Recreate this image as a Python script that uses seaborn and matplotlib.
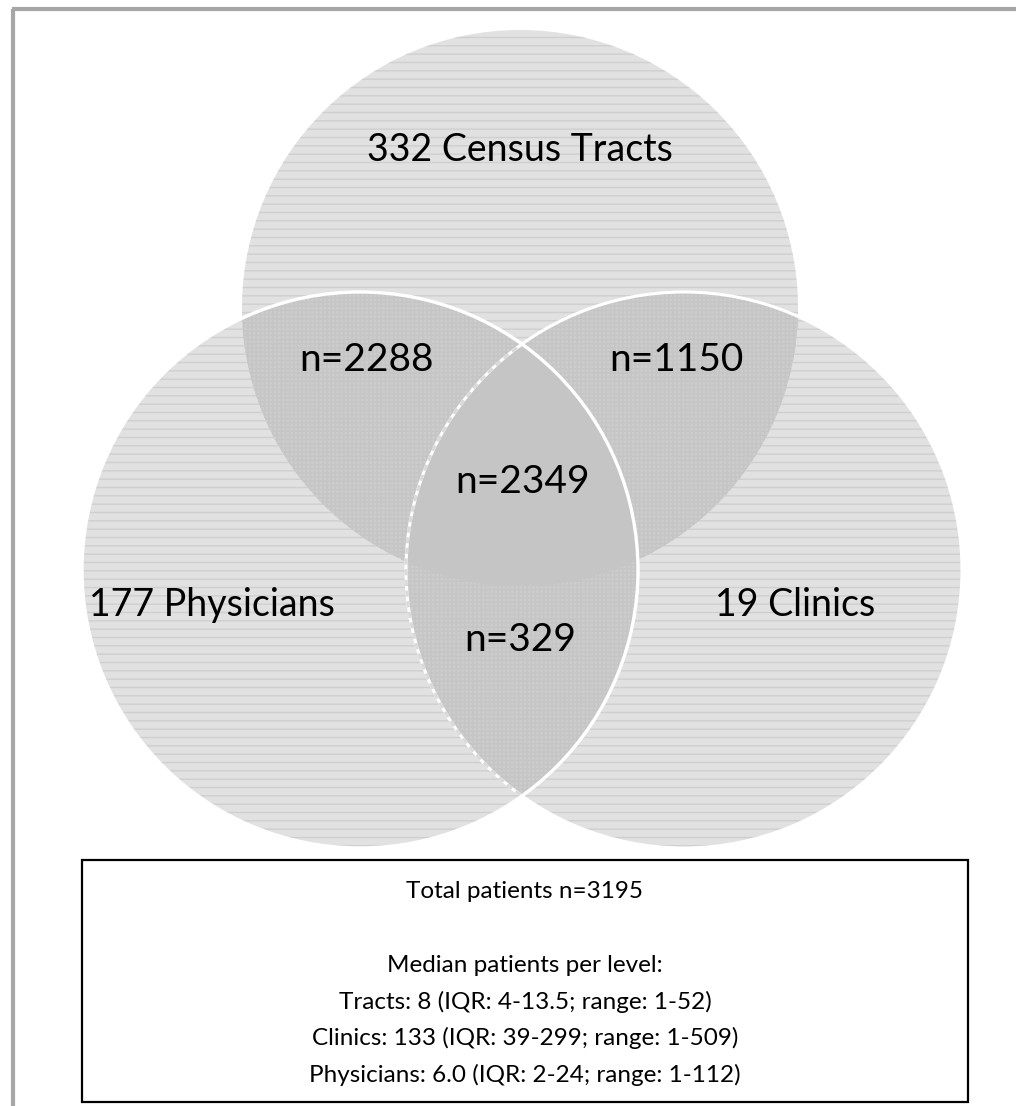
import numpy as np
import seaborn as sns
import matplotlib.pyplot as plt
from matplotlib.patches import Circle, Polygon, Rectangle

# sets and counts
set_labels = ["332 Census Tracts", "177 Physicians", "19 Clinics"]
pair_labels = ["n=2288", "n=1150", "n=329"]   # tracts&phys, tracts&clinics, phys&clinics
triple_label = "n=2349"
summary_lines = [
    "Total patients n=3195",
    "",
    "Median patients per level:",
    "Tracts: 8 (IQR: 4-13.5; range: 1-52)",
    "Clinics: 133 (IQR: 39-299; range: 1-509)",
    "Physicians: 6.0 (IQR: 2-24; range: 1-112)",
]

# layout (pixel coords, y down)
W, H = 1016, 1106
R = 278
centers = [(520, 308), (360, 570), (684, 570)]   # tracts, physicians, clinics
set_pos = [(520, 150), (212, 605), (795, 605)]
pair_pos = [(367, 360), (676, 360), (520, 640)]
triple_pos = (523, 482)

sns.set_theme(style="white")
plt.rcParams['font.family'] = ['Lato', 'DejaVu Sans']
plt.rcParams['hatch.linewidth'] = 1.0

fig = plt.figure(figsize=(W / 100, H / 100), dpi=100)
ax = fig.add_axes([0, 0, 1, 1])
ax.set_xlim(0, W)
ax.set_ylim(H, 0)
ax.axis("off")


def region(idx):
    # intersection of disks as a convex polygon
    pts = []
    t = np.linspace(0, 2 * np.pi, 3000, endpoint=False)
    for i in idx:
        cx, cy = centers[i]
        p = np.column_stack([cx + R * np.cos(t), cy + R * np.sin(t)])
        ok = np.ones(len(p), bool)
        for j in idx:
            if j == i:
                continue
            d = np.hypot(p[:, 0] - centers[j][0], p[:, 1] - centers[j][1])
            ok &= d <= R + 1e-6
        pts.append(p[ok])
    pts = np.vstack(pts)
    m = pts.mean(axis=0)
    ang = np.arctan2(pts[:, 1] - m[1], pts[:, 0] - m[0])
    return pts[np.argsort(ang)]


# single circles
for c in centers:
    ax.add_patch(Circle(c, R, facecolor="#e1e1e1", edgecolor="#cfcfcf",
                        hatch="--", linewidth=0))

# pairwise overlaps
for pair in [(0, 1), (0, 2), (1, 2)]:
    ax.add_patch(Polygon(region(pair), closed=True, facecolor="#cccccc",
                         edgecolor="#c5c5c5", hatch="++++", linewidth=0))

# triple overlap
ax.add_patch(Polygon(region((0, 1, 2)), closed=True, facecolor="#c5c5c5",
                     edgecolor="none", linewidth=0))

# white outlines of the lower circles; the clinics outline is faint inside physicians
ax.add_patch(Circle(centers[2], R, facecolor="none", edgecolor="white",
                    linewidth=2.2))
phys_clip = Circle(centers[1], R, transform=ax.transData, facecolor="none")
faint = Circle(centers[2], R, facecolor="none", edgecolor="#dadada",
               linewidth=2.2, linestyle=(0, (2, 1.5)))
ax.add_patch(faint)
faint.set_clip_path(phys_clip)
ax.add_patch(Circle(centers[1], R, facecolor="none", edgecolor="white",
                    linewidth=2.4))

for lab, (x, y) in zip(set_labels, set_pos):
    ax.text(x, y, lab, ha="center", va="center", fontsize=27, color="black")
for lab, (x, y) in zip(pair_labels, pair_pos):
    ax.text(x, y, lab, ha="center", va="center", fontsize=28, color="black")
ax.text(*triple_pos, triple_label, ha="center", va="center", fontsize=28, color="black")

# summary box
ax.add_patch(Rectangle((82, 860), 886, 242, facecolor="white",
                       edgecolor="black", linewidth=1.6))
y0, dy = 892, 36.5
for k, line in enumerate(summary_lines):
    ax.text(525, y0 + k * dy, line, ha="center", va="center", fontsize=17.5, color="black")

# outer frame (left and top only)
ax.plot([13, 13], [9, H], color="#a6a6a6", linewidth=3, solid_capstyle="butt")
ax.plot([12, W], [9, 9], color="#a6a6a6", linewidth=3, solid_capstyle="butt")

fig.savefig("out.png", dpi=100)
